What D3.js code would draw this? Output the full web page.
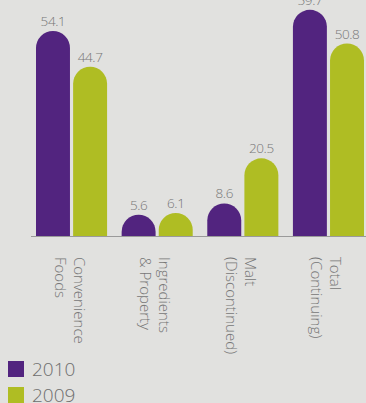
<!DOCTYPE html>
<html><head><meta charset="utf-8">
<script src="https://cdn.jsdelivr.net/npm/d3@7"></script>
<style>
html,body{margin:0;padding:0;background:#e1e1df;}
svg{display:block;}
text{font-family:"Open Sans",Lato,sans-serif;font-weight:300;}
</style></head>
<body>
<script>
const categories = [["Convenience","Foods"],["Ingredients","& Property"],["Malt","(Discontinued)"],["Total","(Continuing)"]];
const series = ["2010","2009"];
const values2010 = [54.1, 5.6, 8.6, 59.7];
const values2009 = [44.7, 6.1, 20.5, 50.8];
const colors = ["#52247f","#afbd23"];

const W = 366, H = 403;
const svg = d3.select("body").append("svg").attr("width", W).attr("height", H);
svg.append("rect").attr("width", W).attr("height", H).attr("fill", "#e1e1df");

const keys = categories.map(c => c.join(" "));
const x0 = d3.scaleBand().domain(keys).range([36, 364]).paddingInner(0.17).paddingOuter(0);
const x1 = d3.scaleBand().domain(series).range([0, x0.bandwidth()]).paddingInner(0.085);
const y = d3.scaleLinear().domain([0, 62.3]).range([236, 0]);

const data = [];
keys.forEach((k, i) => {
  data.push({cat: k, s: "2010", v: values2010[i]});
  data.push({cat: k, s: "2009", v: values2009[i]});
});

function barPath(xl, w, yt, yb) {
  const h = yb - yt;
  const r = Math.min(w / 2, h);
  return `M${xl},${yb} L${xl},${yt + r} A${w/2},${r} 0 0 1 ${xl + w},${yt + r} L${xl + w},${yb} Z`;
}

const g = svg.append("g");
g.selectAll("path.bar").data(data).join("path")
  .attr("class", "bar")
  .attr("d", d => barPath(x0(d.cat) + x1(d.s), x1.bandwidth(), y(d.v), y(0)))
  .attr("fill", (d) => colors[series.indexOf(d.s)]);

g.selectAll("text.val").data(data).join("text")
  .attr("class", "val")
  .attr("x", d => x0(d.cat) + x1(d.s) + x1.bandwidth() / 2)
  .attr("y", d => y(d.v) - 5)
  .attr("text-anchor", "middle")
  .attr("font-size", 13.5)
  .attr("letter-spacing", -0.4)
  .attr("fill", "#777")
  .text(d => d.v.toFixed(1));

svg.append("line").attr("x1", 31).attr("x2", W).attr("y1", y(0) + 0.5).attr("y2", y(0) + 0.5)
  .attr("stroke", "#9a9a9a").attr("stroke-width", 1.2);

const labels = svg.append("g").selectAll("g").data(categories).join("g")
  .attr("transform", (d, i) => `translate(${x0(keys[i]) + x0.bandwidth() / 2},257) rotate(90)`);
labels.each(function(d) {
  const t = d3.select(this);
  t.append("text").attr("x", 0).attr("y", -2).attr("font-size", 15).attr("fill", "#777").text(d[0]);
  t.append("text").attr("x", 0).attr("y", 17).attr("font-size", 15).attr("fill", "#777").text(d[1]);
});

const leg = svg.append("g").selectAll("g").data(series).join("g")
  .attr("transform", (d, i) => `translate(8,${361 + i * 26})`);
leg.append("rect").attr("width", 16).attr("height", 16).attr("fill", (d, i) => colors[i]);
leg.append("text").attr("x", 24).attr("y", 15).attr("font-size", 19).attr("fill", "#6e6e6e").text(d => d);
</script>
</body></html>
